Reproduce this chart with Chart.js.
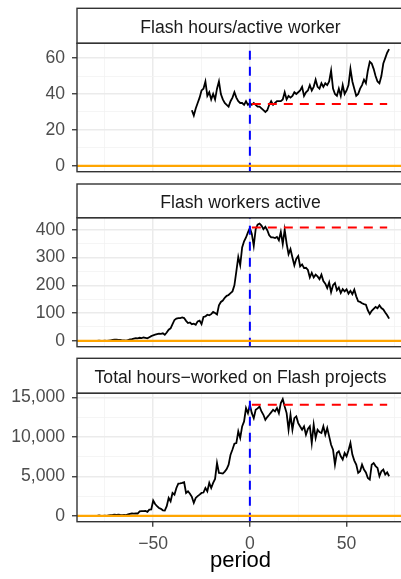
<!DOCTYPE html>
<html>
<head>
<meta charset="utf-8">
<script src="https://cdn.jsdelivr.net/npm/chart.js@4.4.1/dist/chart.umd.min.js"></script>
<style>
  html, body { margin: 0; padding: 0; background: #fff; overflow: hidden; width: 401px; height: 579px; }
  .panel { position: absolute; left: 0; width: 404px; }
  canvas { display: block; }
</style>
</head>
<body>
<div class="panel" style="top:0px;height:200px"><canvas id="chart1" width="404" height="200"></canvas></div>
<div class="panel" style="top:176px;height:200px"><canvas id="chart2" width="404" height="200"></canvas></div>
<div class="panel" style="top:352px;height:227px"><canvas id="chart3" width="404" height="227"></canvas></div>
<script>
// periods -82 .. 72
var periods = [
 -82,-81,-80,-79,-78,-77,-76,-75,-74,-73,-72,
 -71,-70,-69,-68,-67,-66,-65,-64,-63,-62,
 -61,-60,-59,-58,-57,-56,-55,-54,-53,-52,
 -51,-50,-49,-48,-47,-46,-45,-44,-43,-42,
 -41,-40,-39,-38,-37,-36,-35,-34,-33,-32,
 -31,-30,-29,-28,-27,-26,-25,-24,-23,-22,
 -21,-20,-19,-18,-17,-16,-15,-14,-13,-12,
 -11,-10,-9,-8,-7,-6,-5,-4,-3,-2,
 -1,0,1,2,3,4,5,6,7,8,
 9,10,11,12,13,14,15,16,17,18,
 19,20,21,22,23,24,25,26,27,28,
 29,30,31,32,33,34,35,36,37,38,
 39,40,41,42,43,44,45,46,47,48,
 49,50,51,52,53,54,55,56,57,58,
 59,60,61,62,63,64,65,66,67,68,
 69,70,71,72
];

// Flash hours / active worker, periods -30 .. 72
var hoursPerWorker = [
 31,28,32,35,38,42,43,47,39,41,
 37,40,37,43,47,40,37,35,34,33,
 36,38,41,38,36,35,35,34,36,34,
 35,34,35,34,33,33,32,31,30,31,34,36,34,35,36,36,36,37,
 41,37,39,38,39,41,40,41,42,44,
 39,41,42,45,42,44,48,44,43,46,
 44,46,45,47,53,43,40,39,43,39,
 45,40,42,45,54,47,43,39,40,43,
 45,48,46,53,58,57,54,50,47,46,
 50,57,60,63,65
];

var workersActive = [
 0,0,0,0,1,0,0,1,0,1,2,
 3,4,4,3,3,2,2,1,3,5,
 6,8,10,9,11,10,12,11,9,13,
 17,20,22,24,26,25,27,22,30,40,
 45,60,75,80,82,82,84,82,72,64,
 66,60,62,58,70,73,60,86,88,94,
 92,96,104,100,95,128,140,145,155,162,
 165,172,178,200,250,302,272,336,358,372,
 390,406,385,342,402,418,422,415,402,410,
 398,380,372,372,370,374,362,392,348,400,
 350,312,330,300,272,295,305,268,275,262,
 263,255,228,245,228,238,232,222,238,215,
 206,190,210,175,200,208,182,192,172,186,
 178,185,170,180,168,184,160,142,140,135,
 132,130,110,97,108,115,122,117,128,118,
 113,102,92,80
];

var totalHours = [
 0,0,0,0,50,0,0,40,0,60,100,
 120,150,130,140,110,90,120,100,200,250,
 300,280,320,300,560,600,590,620,500,780,
 820,1950,1500,1220,1000,886,700,675,1220,2270,
 1850,2900,2690,3530,4080,4100,4170,4250,2900,3110,
 2800,2400,1640,2270,2500,2690,2900,2950,3530,3110,
 4170,3530,4170,4670,6690,5430,5400,5350,5600,5930,
 6480,7740,8400,9130,9210,10690,9850,11320,11950,13640,
 13000,14060,13000,12370,13420,13600,13840,13210,12790,12160,
 12500,12790,13100,13420,13210,13640,13000,14270,14770,13840,
 13000,10900,12790,10900,12370,12580,11740,11300,10900,11320,
 10270,11000,11320,9210,11530,9850,10900,10600,10480,11320,
 10270,11110,10060,9000,8380,6480,7960,8170,7540,7120,
 7960,7540,8300,9210,7750,7000,6480,5430,5640,6480,
 5850,5500,4800,4590,6480,6690,6300,6060,5010,5640,
 5850,5220,5500,5010
];

// post-period reference levels (red dashed)
var postLevels = [34.4, 408, 14050];
var postStart = 1, postEnd = 71;

// tick values
var xTicks = [-75, -50, -25, 0, 25, 50, 75];
var xTickLabels = [-50, 0, 50];
var hpwTicks = [0, 10, 20, 30, 40, 50, 60];
var hpwTickLabels = [0, 20, 40, 60];
var workersTicks = [0, 50, 100, 150, 200, 250, 300, 350, 400];
var workersTickLabels = [0, 100, 200, 300, 400];
var hoursTicks = [0, 2500, 5000, 7500, 10000, 12500, 15000];
var hoursTickLabels = [0, 5000, 10000, 15000];

var X_MIN = -89.4, X_MAX = 79.7;
var FONT = '"Liberation Sans", Arial, Helvetica, sans-serif';

function makePanel(id, p) {
  var points = p.x.map(function (v, i) { return { x: v, y: p.y[i] }; });
  var stripPlugin = {
    id: 'strip',
    afterDraw: function (chart) {
      var ctx = chart.ctx, a = chart.chartArea;
      ctx.save();
      // strip box
      ctx.fillStyle = '#ffffff';
      ctx.fillRect(a.left, p.stripTop, a.right - a.left, a.top - p.stripTop);
      ctx.strokeStyle = '#333333';
      ctx.lineWidth = 1.4;
      ctx.strokeRect(a.left, p.stripTop, a.right - a.left, a.top - p.stripTop);
      // panel border
      ctx.strokeRect(a.left, a.top, a.right - a.left, a.bottom - a.top);
      ctx.fillStyle = '#1A1A1A';
      ctx.font = '17.6px ' + FONT;
      ctx.textAlign = 'center';
      ctx.textBaseline = 'alphabetic';
      ctx.fillText(p.title, (a.left + a.right) / 2, p.stripTop + 24.4);
      ctx.restore();
    }
  };
  return new Chart(document.getElementById(id), {
    type: 'line',
    data: {
      datasets: [
        { data: points, borderColor: '#000000', borderWidth: 1.8, pointRadius: 0, order: 4 },
        { data: [{ x: postStart, y: p.level }, { x: postEnd, y: p.level }],
          borderColor: '#FF0000', borderWidth: 2, borderDash: [9, 7], pointRadius: 0, order: 3 },
        { data: [{ x: 0, y: p.ymin }, { x: 0, y: p.ymax }],
          borderColor: '#0000FF', borderWidth: 2, borderDash: [9, 7], pointRadius: 0, order: 2 },
        { data: [{ x: X_MIN, y: 0 }, { x: X_MAX, y: 0 }],
          borderColor: '#FFA500', borderWidth: 2.2, pointRadius: 0, order: 1 }
      ]
    },
    options: {
      responsive: false,
      animation: false,
      events: [],
      layout: { padding: { top: p.areaTop, bottom: p.padBottom, left: 0, right: 0 } },
      plugins: { legend: { display: false }, tooltip: { enabled: false } },
      scales: {
        x: {
          type: 'linear', min: X_MIN, max: X_MAX,
          afterBuildTicks: function (s) { s.ticks = xTicks.map(function (v) { return { value: v }; }); },
          afterFit: function (s) { s.height = p.xHeight; },
          border: { display: false },
          grid: {
            color: function (c) { return c.tick && xTickLabels.indexOf(c.tick.value) >= 0 ? '#EBEBEB' : '#F2F2F2'; },
            lineWidth: function (c) { return c.tick && xTickLabels.indexOf(c.tick.value) >= 0 ? 1.5 : 0.8; },
            drawTicks: p.showX,
            tickLength: 5,
            tickWidth: 1.3,
            tickColor: function (c) { return c.tick && xTickLabels.indexOf(c.tick.value) >= 0 ? '#333333' : 'rgba(0,0,0,0)'; }
          },
          ticks: {
            display: p.showX,
            autoSkip: false,
            maxRotation: 0,
            padding: 6.6,
            color: '#4D4D4D',
            font: { family: FONT, size: 17.6 },
            callback: function (v) { return xTickLabels.indexOf(v) >= 0 ? (v < 0 ? '\u2212' + Math.abs(v) : String(v)) : ''; }
          },
          title: {
            display: p.showX,
            text: 'period',
            color: '#000000',
            font: { family: FONT, size: 22 },
            padding: { top: 0, bottom: 5 }
          }
        },
        y: {
          type: 'linear', min: p.ymin, max: p.ymax,
          afterBuildTicks: function (s) { s.ticks = p.ticks.map(function (v) { return { value: v }; }); },
          afterFit: function (s) { s.width = 77; },
          border: { display: false },
          grid: {
            color: function (c) { return c.tick && p.labels.indexOf(c.tick.value) >= 0 ? '#EBEBEB' : '#F2F2F2'; },
            lineWidth: function (c) { return c.tick && p.labels.indexOf(c.tick.value) >= 0 ? 1.5 : 0.8; },
            tickLength: 5,
            tickWidth: 1.3,
            tickColor: function (c) { return c.tick && p.labels.indexOf(c.tick.value) >= 0 ? '#333333' : 'rgba(0,0,0,0)'; }
          },
          ticks: {
            autoSkip: false,
            padding: 7,
            color: '#4D4D4D',
            font: { family: FONT, size: 17.6 },
            callback: function (v) { return p.labels.indexOf(v) >= 0 ? v.toLocaleString('en-US') : ''; }
          }
        }
      }
    },
    plugins: [stripPlugin]
  });
}

makePanel('chart1', {
  title: 'Flash hours/active worker',
  x: periods.slice(52), y: hoursPerWorker, level: postLevels[0],
  ymin: -3.25, ymax: 68.25, ticks: hpwTicks, labels: hpwTickLabels,
  stripTop: 8.3, areaTop: 43.3, padBottom: 28.3, xHeight: 0, showX: false
});
makePanel('chart2', {
  title: 'Flash workers active',
  x: periods, y: workersActive, level: postLevels[1],
  ymin: -21.1, ymax: 443.1, ticks: workersTicks, labels: workersTickLabels,
  stripTop: 8, areaTop: 41.7, padBottom: 29.3, xHeight: 0, showX: false
});
makePanel('chart3', {
  title: 'Total hours\u2212worked on Flash projects',
  x: periods, y: totalHours, level: postLevels[2],
  ymin: -738, ymax: 15508, ticks: hoursTicks, labels: hoursTickLabels,
  stripTop: 6.3, areaTop: 41.3, padBottom: 0, xHeight: 57.3, showX: true
});
</script>
</body>
</html>
